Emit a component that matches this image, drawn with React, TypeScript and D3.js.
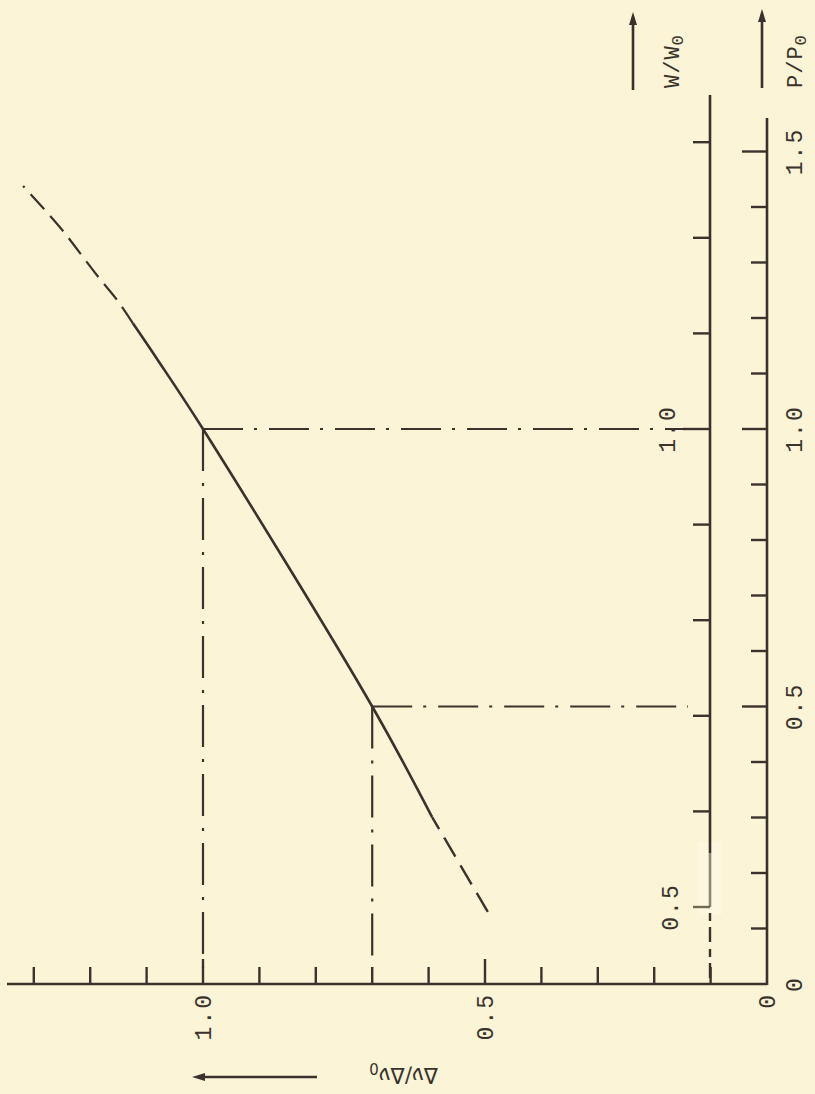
import React from 'react';
import * as d3 from 'd3';

const pSolid = [0.301, 0.5, 1.0, 1.124, 1.19];
const dnSolid = [0.594, 0.7, 1.0, 1.08, 1.124];
const pDashLow = [0.13, 0.301];
const dnDashLow = [0.495, 0.594];
const pDashHigh = [1.19, 1.232, 1.277, 1.317, 1.364, 1.438];
const dnDashHigh = [1.124, 1.152, 1.188, 1.218, 1.254, 1.319];

const guideP = [1.0, 0.5];
const guideDn = [1.0, 0.7];

const dnTicks = [0.1, 0.2, 0.3, 0.4, 0.5, 0.6, 0.7, 0.8, 0.9, 1.0, 1.1, 1.2, 1.3];
const dnLabels = ['0', '0.5', '1.0'];
const pTicks = [0.1, 0.2, 0.3, 0.4, 0.5, 0.6, 0.7, 0.8, 0.9, 1.0, 1.1, 1.2, 1.3, 1.4, 1.5];
const pLabels = ['0', '0.5', '1.0', '1.5'];
const wTicks = [0.5, 0.6, 0.7, 0.8, 0.9, 1.0, 1.1, 1.2, 1.3];
const wLabels = ['0.5', '1.0'];

const W = 815;
const H = 1094;
const ink = '#3a332d';
const bg = '#fbf4d6';
const font = '"Liberation Mono", "DejaVu Sans Mono", monospace';

export default function App() {
  // Δν/Δν0 runs right-to-left along the bottom, P/P0 and W/W0 run upward
  const x = d3.scaleLinear().domain([0, 1]).range([767, 203]);
  const yP = d3.scaleLinear().domain([0, 1]).range([984, 429]);
  const yW = d3.scaleLinear().domain([0.5, 1.0]).range([907, 429]);
  const xW = 710;
  const xP = 767;
  const yBase = 984;

  const line = d3
    .line<[number, number]>()
    .x(d => x(d[1]))
    .y(d => yP(d[0]))
    .curve(d3.curveCatmullRom.alpha(0.5));

  const zip = (a: number[], b: number[]) => a.map((v, i) => [v, b[i]] as [number, number]);

  return (
    <svg width={W} height={H} style={{ position: 'absolute', left: 0, top: 0, background: bg }}>
      <rect width={W} height={H} fill={bg} />

      {/* curve */}
      <path d={line(zip(pSolid, dnSolid)) || ''} fill="none" stroke={ink} strokeWidth={2.6} />
      <path d={line(zip(pDashLow, dnDashLow)) || ''} fill="none" stroke={ink} strokeWidth={2.4} strokeDasharray="22,10" />
      <path d={line(zip(pDashHigh, dnDashHigh)) || ''} fill="none" stroke={ink} strokeWidth={2.2} strokeDasharray="20,9" />

      {/* dash-dot guide lines */}
      {guideP.map((p, i) => (
        <g key={'g' + i} stroke={ink} strokeWidth={2.2} fill="none">
          <line x1={x(guideDn[i])} y1={yP(p)} x2={p === 1 ? xW - 10 : xW - 22} y2={yP(p)} strokeDasharray="40,11,3,12" />
          <line x1={x(guideDn[i])} y1={yP(p)} x2={x(guideDn[i])} y2={yBase - 16} strokeDasharray="42,12,3,12" />
        </g>
      ))}

      {/* bottom axis: Δν/Δν0 */}
      <line x1={7} y1={yBase} x2={xP} y2={yBase} stroke={ink} strokeWidth={2.6} />
      {dnTicks.map(t => {
        const major = Math.abs(t - 0.5) < 1e-6 || Math.abs(t - 1) < 1e-6;
        return <line key={'dt' + t} x1={x(t)} x2={x(t)} y1={yBase} y2={yBase - (major ? 25 : 17)} stroke={ink} strokeWidth={2.4} />;
      })}
      {dnLabels.map(l => (
        <text key={'dl' + l} transform={`translate(${x(+l)},993) rotate(-90)`} textAnchor="end" dy="0.35em"
          fontFamily={font} fontSize={23} letterSpacing={2} fill={ink}>{l}</text>
      ))}

      {/* P/P0 axis */}
      <line x1={xP} y1={yBase + 1} x2={xP} y2={118} stroke={ink} strokeWidth={2.6} />
      {pTicks.map(t => {
        const major = [0.5, 1.0, 1.5].some(m => Math.abs(m - t) < 1e-6);
        return <line key={'pt' + t} x1={xP} x2={xP - (major ? 25 : 16)} y1={yP(t)} y2={yP(t)} stroke={ink} strokeWidth={2.4} />;
      })}
      {pLabels.map(l => (
        <text key={'pl' + l} transform={`translate(794,${yP(+l)}) rotate(-90)`} textAnchor="middle" dy="0.35em"
          fontFamily={font} fontSize={23} letterSpacing={2} fill={ink}>{l}</text>
      ))}

      {/* W/W0 axis */}
      <rect x={698} y={842} width={24} height={73} fill="#fdf9e6" opacity={0.55} />
      <line x1={xW} y1={95} x2={xW} y2={853} stroke={ink} strokeWidth={2.6} />
      <line x1={xW} y1={853} x2={xW} y2={yW(0.5)} stroke="#8a8670" strokeWidth={2.6} />
      <line x1={xW} y1={yW(0.5) + 6} x2={xW} y2={yBase} stroke={ink} strokeWidth={2.4} strokeDasharray="8,6,15,7" />
      {wTicks.map(t => {
        const major = Math.abs(t - 1) < 1e-6;
        return <line key={'wt' + t} x1={xW} x2={xW - (major ? 27 : 17)} y1={yW(t)} y2={yW(t)} stroke={t === 0.5 ? '#6d6955' : ink} strokeWidth={2.4} />;
      })}
      {wLabels.map(l => (
        <text key={'wl' + l} transform={`translate(${+l === 1 ? 667 : 670},${yW(+l)}) rotate(-90)`} textAnchor="middle" dy="0.35em"
          fontFamily={font} fontSize={23} letterSpacing={2} fill={ink}>{l}</text>
      ))}

      {/* axis titles with arrows */}
      <line x1={762} y1={88} x2={762} y2={18} stroke={ink} strokeWidth={2.6} />
      <path d="M762,9 L766,22 L758,22 Z" fill={ink} />
      <text transform="translate(794,88) rotate(-90)" textAnchor="start" dy="0.35em" fontFamily={font} fontSize={22} letterSpacing={1} fill={ink}>
        P/P<tspan fontSize={17} dy="4">0</tspan>
      </text>
      <line x1={633} y1={90} x2={633} y2={21} stroke={ink} strokeWidth={2.6} />
      <path d="M633,12 L637,25 L629,25 Z" fill={ink} />
      <text transform="translate(671,88) rotate(-90)" textAnchor="start" dy="0.35em" fontFamily={font} fontSize={22} letterSpacing={1} fill={ink}>
        W/W<tspan fontSize={17} dy="4">0</tspan>
      </text>

      <line x1={203} y1={1077} x2={317} y2={1077} stroke={ink} strokeWidth={2.4} />
      <path d="M192,1077 L205,1073 L205,1081 Z" fill={ink} />
      <text transform="translate(438,1068) rotate(180)" textAnchor="start" fontFamily="DejaVu Sans, sans-serif" fontSize={21} fill={ink}>
        Δν/Δν<tspan fontSize={15} dy="5">0</tspan>
      </text>
    </svg>
  );
}
